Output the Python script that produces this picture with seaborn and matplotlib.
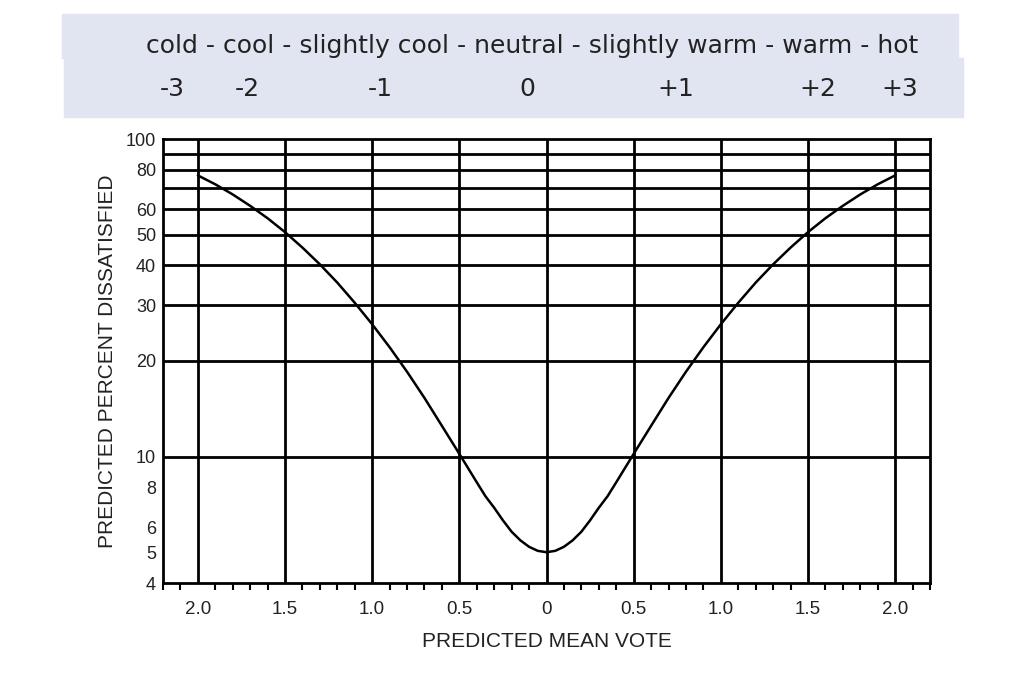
import numpy as np
import pandas as pd
import seaborn as sns
import matplotlib.pyplot as plt
from matplotlib.patches import Rectangle
from matplotlib.ticker import FixedLocator, MultipleLocator, NullFormatter

# PMV (one side) and PPD
pmv = [0.0, 0.05, 0.1, 0.15, 0.2, 0.25, 0.3, 0.35, 0.4, 0.5, 0.6, 0.7,
       0.8, 0.9, 1.0, 1.1, 1.2, 1.3, 1.4, 1.5, 1.6, 1.7, 1.8, 1.9, 2.0]
ppd = [5.0, 5.05, 5.2, 5.45, 5.8, 6.3, 6.9, 7.5, 8.3, 10.2, 12.5, 15.3,
       18.5, 22.1, 26.1, 30.5, 35.3, 40.3, 45.5, 50.9, 56.3, 61.6, 66.9,
       72.0, 76.8]

sensation = 'cold - cool - slightly cool - neutral - slightly warm - warm - hot'
scale_labels = ['-3', '-2', '-1', '0', '+1', '+2', '+3']
scale_x = [172, 247, 380, 527, 676, 818, 900]

y_ticks = [4, 5, 6, 8, 10, 20, 30, 40, 50, 60, 80, 100]
y_grid = [10, 20, 30, 40, 50, 60, 70, 80, 90]
x_ticks = [-2.0, -1.5, -1.0, -0.5, 0.0, 0.5, 1.0, 1.5, 2.0]
x_labels = ['2.0', '1.5', '1.0', '0.5', '0', '0.5', '1.0', '1.5', '2.0']

side = pd.DataFrame({'pmv': pmv, 'ppd': ppd})
curve = pd.concat([side.assign(pmv=-side['pmv']).iloc[::-1], side.iloc[1:]])

sns.set_theme(style='white')
plt.rcParams['font.family'] = ['Liberation Sans', 'DejaVu Sans']

fig = plt.figure(figsize=(10.24, 6.83), dpi=100)
W, H = 1024, 683

# header band
band = '#e1e5f1'
fig.patches.append(Rectangle((62 / W, 1 - 58 / H), 896 / W, 44 / H,
                             transform=fig.transFigure, color=band, zorder=0))
fig.patches.append(Rectangle((64 / W, 1 - 117 / H), 899 / W, 59 / H,
                             transform=fig.transFigure, color=band, zorder=0))
fig.text(532 / W, 1 - 46 / H, sensation, ha='center', va='center',
         fontsize=18, color='#222222', family='DejaVu Sans')
for lab, px in zip(scale_labels, scale_x):
    fig.text(px / W, 1 - 89 / H, lab, ha='center', va='center',
             fontsize=18, color='#222222', family='DejaVu Sans')

ax = fig.add_axes([163 / W, 1 - 583 / H, 767 / W, 444 / H])
sns.lineplot(data=curve, x='pmv', y='ppd', ax=ax, color='black',
             linewidth=1.8, zorder=5)

ax.set_yscale('log')
ax.set_ylim(4, 100)
ax.set_xlim(-2.2, 2.2)

ax.yaxis.set_major_locator(FixedLocator(y_ticks))
ax.set_yticklabels([str(v) for v in y_ticks])
ax.yaxis.set_minor_locator(FixedLocator([]))
ax.yaxis.set_minor_formatter(NullFormatter())
ax.tick_params(axis='y', which='both', length=0, pad=5, labelsize=13,
               labelcolor='#222222')

ax.set_xticks(x_ticks)
ax.set_xticklabels(x_labels)
ax.xaxis.set_minor_locator(MultipleLocator(0.1))
ax.tick_params(axis='x', which='major', direction='out', length=9,
               width=2, color='black', pad=4, labelsize=13.5,
               labelcolor='#222222')
ax.tick_params(axis='x', which='minor', direction='out', length=5,
               width=1.5, color='black', bottom=True)

for v in y_grid:
    ax.axhline(v, color='black', linewidth=2, zorder=2)
for v in x_ticks:
    ax.axvline(v, color='black', linewidth=2, zorder=2)

for s in ax.spines.values():
    s.set_color('black')
    s.set_linewidth(2)

ax.set_xlabel('PREDICTED MEAN VOTE', fontsize=15, labelpad=10,
              color='#222222')
ax.set_ylabel('PREDICTED PERCENT DISSATISFIED', fontsize=15, labelpad=6,
              color='#222222')

fig.savefig('out.png', dpi=100)
